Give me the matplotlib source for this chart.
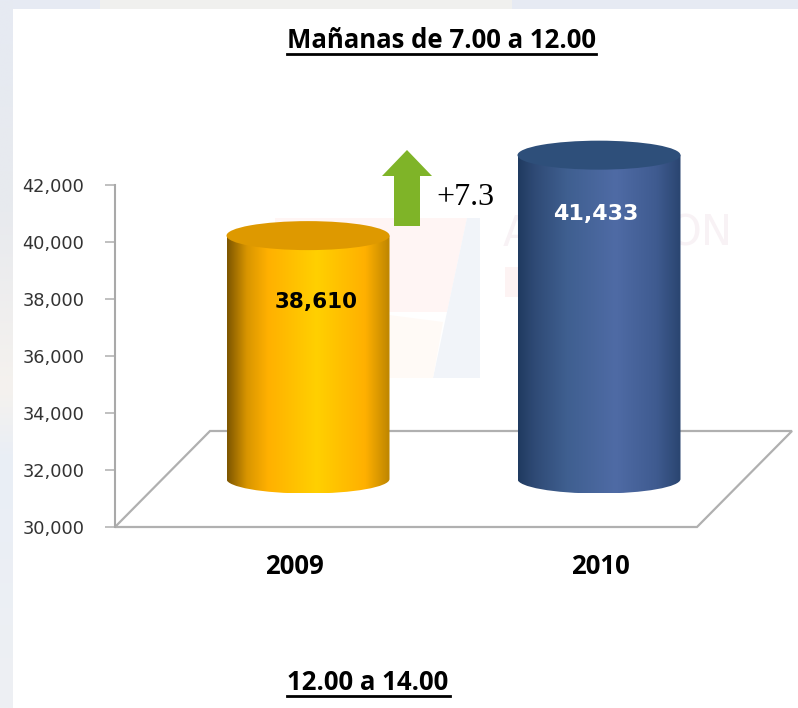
import matplotlib
matplotlib.use("Agg")
import matplotlib.pyplot as plt
import numpy as np
from matplotlib.colors import LinearSegmentedColormap
from matplotlib.patches import Ellipse, Polygon, Rectangle, PathPatch
from matplotlib.path import Path
from matplotlib.ticker import StrMethodFormatter

# Datos
years = ["2009", "2010"]
values = [38610, 41433]
y_ticks = [30000, 32000, 34000, 36000, 38000, 40000, 42000]
change = "+7.3"

W, H = 798, 708
AX_L, AX_R, AX_T, AX_B = 115, 697, 185, 527
DX, DY = 95, 96  # fondo del piso 3D en pixeles
BAR_W, RY = 163, 14.5

gold = LinearSegmentedColormap.from_list("gold", [(0, "#7d5600"), (0.12, "#d89500"), (0.25, "#ffb000"),
                                                  (0.55, "#ffd000"), (0.85, "#ffb000"), (1, "#bd8500")])
blue = LinearSegmentedColormap.from_list("blue", [(0, "#1f3a60"), (0.1, "#2f4a75"), (0.3, "#3f5f90"),
                                                  (0.6, "#4f6ba5"), (0.85, "#3f5b90"), (1, "#2a4570")])
strip = LinearSegmentedColormap.from_list("strip", [(0, "#e6eaf3"), (0.3, "#e8eaee"), (0.55, "#f5f2ee"),
                                                    (0.65, "#e9eef6"), (1, "#eef0f3")])
bar_cmaps = [gold, blue]
cap_colors = ["#de9900", "#2e4f7a"]
label_colors = ["black", "white"]
label_px = [(316, 302), (595.5, 214)]
xlabel_px = [294, 600]

fig = plt.figure(figsize=(W / 100, H / 100), dpi=100, facecolor="white")


def px(x, y):
    return x / W, 1 - y / H


# fondo: franjas de la diapositiva y marca de agua, en pixeles
bg = fig.add_axes([0, 0, 1, 1], zorder=0)
bg.axis("off")
bg.imshow(np.linspace(0, 1, 256).reshape(-1, 1), cmap=strip, extent=[0, 13, H, 0], aspect="auto")
bg.set_xlim(0, W)
bg.set_ylim(H, 0)
bg.add_patch(Rectangle((13, 0), W, 9, color="#e6eaf3", lw=0))
bg.add_patch(Rectangle((100, 0), 412, 9, color="#f0f0ee", lw=0))
bg.add_patch(Polygon([(275, 218), (467, 218), (447, 312), (275, 312)], color="#fff5f4", lw=0))
bg.add_patch(Polygon([(467, 218), (480, 218), (480, 378), (433, 378), (447, 312)], color="#f1f4f9", lw=0))
bg.add_patch(Polygon([(389, 315), (443, 322), (433, 378), (389, 378)], color="#fffaf6", lw=0))
bg.add_patch(Rectangle((505, 267), 50, 30, color="#fdf3f3", lw=0))
# marca de agua: solo se ven los extremos, el resto queda tras la barra
bg.text(503, 234, "A", fontsize=30, color="#f8f2f5", ha="left", va="center")
bg.text(733, 234, "ON", fontsize=30, color="#f8f2f5", ha="right", va="center")

ax = fig.add_axes([AX_L / W, 1 - AX_B / H, (AX_R - AX_L) / W, (AX_B - AX_T) / H], zorder=1)
ax.patch.set_alpha(0)
ax.set_xlim(-0.5, 1.5)
ax.set_ylim(y_ticks[0], y_ticks[-1])
for s in ["top", "right", "bottom"]:
    ax.spines[s].set_visible(False)
ax.spines["left"].set_color("#a9a9a9")
ax.spines["left"].set_linewidth(1.5)
ax.set_xticks([])
ax.set_yticks(y_ticks)
ax.yaxis.set_major_formatter(StrMethodFormatter("{x:,.0f}"))
ax.tick_params(axis="y", length=7, width=1.2, color="#b5b5b5", pad=15, labelsize=12.8, labelcolor="#333333")

# conversion de pixeles a unidades de datos
ux = (ax.get_xlim()[1] - ax.get_xlim()[0]) / (AX_R - AX_L)
uy = (y_ticks[-1] - y_ticks[0]) / (AX_B - AX_T)

floor = [(-0.5, y_ticks[0]), (1.5, y_ticks[0]), (1.5 + DX * ux, y_ticks[0] + DY * uy), (-0.5 + DX * ux, y_ticks[0] + DY * uy)]
ax.add_patch(Polygon(floor, closed=True, fill=False, ec="#b0b0b0", lw=1.6, clip_on=False, zorder=2))

for i, v in enumerate(values):
    xc = i + DX / 2 * ux
    w = BAR_W * ux
    base = y_ticks[0] + (DY / 2) * uy
    top = v + (DY / 2 - 2) * uy
    ry = RY * uy
    k = 0.5523
    xl, xr = xc - w / 2, xc + w / 2
    # cuerpo del cilindro: gradiente recortado
    verts = [(xl, top), (xl, base), (xl, base - k * ry), (xc - k * w / 2, base - ry), (xc, base - ry),
             (xc + k * w / 2, base - ry), (xr, base - k * ry), (xr, base), (xr, top), (xl, top)]
    codes = [Path.MOVETO, Path.LINETO, Path.CURVE4, Path.CURVE4, Path.CURVE4,
             Path.CURVE4, Path.CURVE4, Path.CURVE4, Path.LINETO, Path.CLOSEPOLY]
    clip = PathPatch(Path(verts, codes), fc="none", ec="none", clip_on=False, transform=ax.transData)
    ax.add_patch(clip)
    grad = np.linspace(0, 1, 256).reshape(1, -1)
    im = ax.imshow(grad, cmap=bar_cmaps[i], extent=[xl, xr, base - ry, top], aspect="auto", zorder=3)
    im.set_clip_box(fig.bbox)
    im.set_clip_path(clip)
    ax.add_patch(Ellipse((xc, top), w, 2 * ry, color=cap_colors[i], lw=0, zorder=4, clip_on=False))
    fig.text(*px(*label_px[i]), f"{v:,}", color=label_colors[i], fontsize=15.5 if i == 0 else 16,
             fontweight="bold", family="DejaVu Sans", ha="center", va="center", zorder=5)
    # restaurar limites que imshow pudo cambiar
    ax.set_xlim(-0.5, 1.5)
    ax.set_ylim(y_ticks[0], y_ticks[-1])
    fig.text(*px(xlabel_px[i], 566), years[i], fontsize=18.5, fontweight="bold", family="Open Sans",
             ha="center", va="center", color="black")

# flecha verde y variacion
bg.add_patch(Polygon([(382, 176), (407, 150), (432, 176), (420, 176), (420, 226), (394, 226), (394, 176)],
                     color="#7fb428", lw=0))
fig.text(*px(436, 197), change, fontsize=23, family="Liberation Serif", ha="left", va="center", color="black")

# titulos subrayados
fig.text(*px(441, 40), "Mañanas de 7.00 a 12.00", fontsize=18.5, fontweight="bold", family="Open Sans",
         ha="center", va="center", color="black")
bg.plot([287, 596], [54, 54], color="black", lw=2)
fig.text(*px(368, 683), "12.00 a 14.00", fontsize=18.5, fontweight="bold", family="Open Sans",
         ha="center", va="center", color="black")
bg.plot([287, 450], [696, 696], color="black", lw=2)

fig.savefig("out.png", dpi=100)
